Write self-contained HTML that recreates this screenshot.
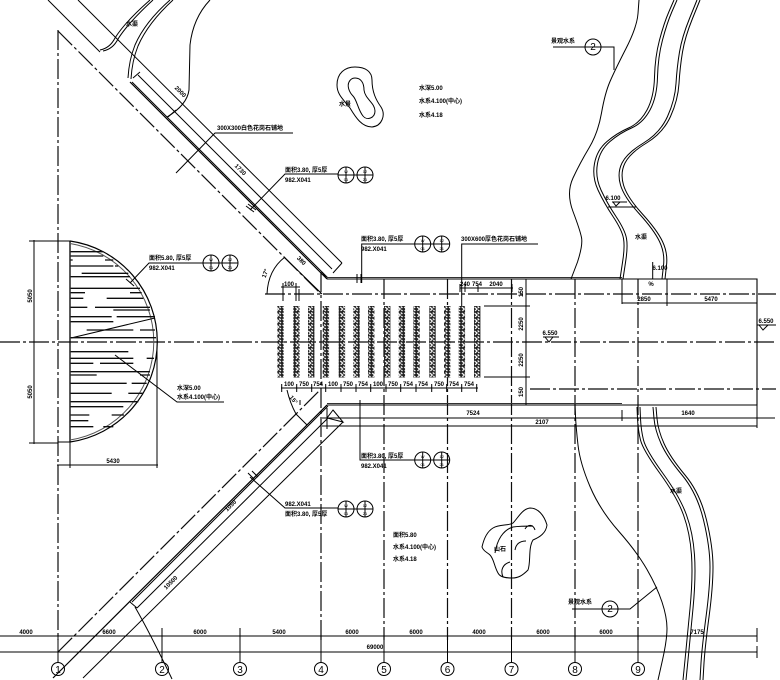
<!DOCTYPE html>
<html><head><meta charset="utf-8"><style>
html,body{margin:0;padding:0;background:#fff}
svg{display:block}
text{font-family:"Liberation Sans","Noto Sans CJK SC",sans-serif;font-size:6px;fill:#000;font-weight:bold}
.n{font-weight:normal;font-size:10px}
.b{font-size:4px;font-weight:normal}
.l{fill:none;stroke:#000;stroke-width:1}
.g{fill:none;stroke:#111;stroke-width:1.2;stroke-dasharray:20 3 3 3}
</style></head><body>
<svg width="780" height="680" viewBox="0 0 780 680" xmlns="http://www.w3.org/2000/svg">
<defs>
<pattern id="tr" width="6.4" height="6" patternUnits="userSpaceOnUse" x="0" y="306">
<rect width="6.4" height="6" fill="#222"/>
<path d="M1 1L3.5 3L1.5 5M4 .5L5.6 2M4.5 4L5.8 5" stroke="#fff" stroke-width="1.2" fill="none"/>
</pattern>
<filter id="soft" x="0" y="0" width="100%" height="100%"><feGaussianBlur stdDeviation="0.35"/></filter>
</defs>
<rect width="780" height="680" fill="#fff"/>
<g filter="url(#soft)">

<!-- grid axes -->
<g class="g">
<path d="M0 342H776"/>
<path d="M265 294H776"/>
<path d="M530 389H776"/>
<path d="M58 30V640"/>
<path d="M321 272V640"/>
<path d="M384 279V640"/>
<path d="M447.5 279V640"/>
<path d="M511.5 279V640"/>
<path d="M575 279V640"/>
<path d="M638 279V640"/>
<path d="M58 31L321 294"/>
<path d="M58 652L320 390"/>
</g>

<!-- dimension lines bottom + bubbles -->
<g class="l">
<path d="M0 636H757M0 652H757M757 628V642M757 646V658"/>
<path d="M58 636V662M162 628V662M240 628V662M321 636V662M384 636V662M447.5 636V662M511.5 636V662M575 636V662M638 636V662"/>
<circle cx="58" cy="669" r="6.5"/><circle cx="162" cy="669" r="6.5"/><circle cx="240" cy="669" r="6.5"/><circle cx="321" cy="669" r="6.5"/><circle cx="384" cy="669" r="6.5"/><circle cx="447.5" cy="669" r="6.5"/><circle cx="511.5" cy="669" r="6.5"/><circle cx="575" cy="669" r="6.5"/><circle cx="638" cy="669" r="6.5"/>
</g>
<g>
<text class="n" x="58" y="673" text-anchor="middle">1</text><text class="n" x="162" y="673" text-anchor="middle">2</text><text class="n" x="240" y="673" text-anchor="middle">3</text><text class="n" x="321" y="673" text-anchor="middle">4</text><text class="n" x="384" y="673" text-anchor="middle">5</text><text class="n" x="447.5" y="673" text-anchor="middle">6</text><text class="n" x="511.5" y="673" text-anchor="middle">7</text><text class="n" x="575" y="673" text-anchor="middle">8</text><text class="n" x="638" y="673" text-anchor="middle">9</text>
</g>
<g text-anchor="middle">
<text x="26" y="634">4000</text><text x="109" y="634">6600</text><text x="200" y="634">6000</text><text x="279" y="634">5400</text><text x="352" y="634">6000</text><text x="375" y="649">69000</text><text x="416" y="634">6000</text><text x="479" y="634">4000</text><text x="543" y="634">6000</text><text x="606" y="634">6000</text><text x="697" y="634">7175</text>
</g>

<!-- semicircle platform -->
<g class="l">
<path d="M70 241V442" stroke-width="1.3"/>
<path d="M70 241A101.5 101.5 0 0 1 70 442" stroke-width="1.2"/>
<path d="M70 243.5A99.5 99.5 0 0 1 70 440" stroke="#555"/>
<path d="M34 240V444M29 241H58M29 443H58M58 241H70M58 442H70M57 465H158M70 442V468M157 345V468"/>
<path d="M71 338L155 318"/>
<path d="M130 283L149 263H203M115 355L177 402H224"/>
<path d="M126 279L134 286"/>
</g>
<g transform="translate(0,220) scale(.33333)" fill="none" stroke="#111" stroke-width="4">
<path d="M212 95H310M212 108H310M315 120H340M212 120H218M212 138H340M345 138H355M245 160H385M212 170H390M212 205H420M212 218H255M390 218H425M212 235H250M320 235H430M212 262H262M285 262H450M340 270H450M212 290H335M350 290H465M212 305H340M260 330H400M420 330H465M212 353H468M212 395H385M212 415H400M440 415H462M212 430H280M300 430H400M212 455H450M212 465H290M420 465H450M212 490H380M395 490H440M212 520H335M385 520H430M212 545H415M212 560H370M212 585H268M335 585H372M212 602H265M212 620H280M310 620H340"/>
</g>
<text transform="translate(32,296) rotate(-90)" text-anchor="middle">5050</text>
<text transform="translate(32,392) rotate(-90)" text-anchor="middle">5050</text>
<text x="113" y="463" text-anchor="middle">5430</text>
<text x="149" y="260">面积5.80, 厚5厚</text><text x="149" y="270">982.X041</text>
<text x="177" y="390">水深5.00</text><text x="177" y="399">水系4.100(中心)</text>

<!-- double bubbles -->
<g class="l" stroke-width="1.1">
<circle cx="211" cy="263" r="8"/><circle cx="230" cy="263" r="8"/><path d="M203 263H238M211 255V271M230 255V271"/>
<circle cx="346" cy="175" r="8"/><circle cx="365" cy="175" r="8"/><path d="M338 175H373M346 167V183M365 167V183"/>
<circle cx="422.7" cy="244" r="8"/><circle cx="441.7" cy="244" r="8"/><path d="M415 244H450M422.7 236V252M441.7 236V252"/>
<circle cx="422.7" cy="460" r="8"/><circle cx="441.7" cy="460" r="8"/><path d="M415 460H450M422.7 452V468M441.7 452V468"/>
<circle cx="346" cy="509" r="8"/><circle cx="365" cy="509" r="8"/><path d="M338 509H373M346 501V517M365 501V517"/>
<circle cx="593" cy="47" r="8"/><circle cx="610" cy="609" r="8"/>
</g>
<g text-anchor="middle">
<text class="b" x="211" y="261">W</text><text class="b" x="211" y="269">01</text><text class="b" x="230" y="261">12</text><text class="b" x="230" y="269">21</text>
<text class="b" x="346" y="173">W</text><text class="b" x="346" y="181">01</text><text class="b" x="365" y="173">12</text><text class="b" x="365" y="181">21</text>
<text class="b" x="422.7" y="242">W</text><text class="b" x="422.7" y="250">01</text><text class="b" x="441.7" y="242">12</text><text class="b" x="441.7" y="250">21</text>
<text class="b" x="422.7" y="458">W</text><text class="b" x="422.7" y="466">01</text><text class="b" x="441.7" y="458">12</text><text class="b" x="441.7" y="466">21</text>
<text class="b" x="346" y="507">W</text><text class="b" x="346" y="515">01</text><text class="b" x="365" y="507">12</text><text class="b" x="365" y="515">21</text>
</g>
<text class="n" x="593" y="50" text-anchor="middle">2</text>
<text class="n" x="610" y="612" text-anchor="middle">2</text>

<!-- upper diagonal walkway -->
<g class="l">
<path d="M48 0L100 52" />
<path d="M78 0L342 263"/>
<path d="M130 82L327 279" stroke-width="1.2"/>
<path d="M132 82L328 278"/>
<path d="M138 75L332 269"/>
<path d="M342 263L333 273M133 78L140 72M168 117L176 110"/>
<path d="M100 50Q110 48 115 38Q125 22 150 0"/>
<path d="M103 51Q113 49 118 39Q128 23 153 0"/>
<path d="M128 78Q129 60 135 45Q145 22 170 0"/>
<path d="M131 79Q132 61 138 46Q148 23 173 0"/>
<path d="M210 0Q193 18 190 45L189 90Q187 105 167 117"/>
<path d="M176 173L215 133H293"/>
<path d="M250 210L285 174H338"/>
<path d="M246 206L254 212M248 204L256 210"/>
<path d="M355 67C366 67 372 72 372 80C372 92 376 100 381 107C386 115 382 126 372 127C362 127 356 118 350 108C344 100 337 95 337 85C337 73 345 67 355 67Z"/>
<path d="M355 78C361 78 364 83 364 90C365 99 375 103 375 111C375 118 367 121 363 116C358 110 357 100 353 96C349 92 347 86 349 82C350 80 352 78 355 78Z"/>
</g>
<text transform="translate(179,93) rotate(45)" text-anchor="middle">2000</text>
<text transform="translate(239,171) rotate(45)" text-anchor="middle">1730</text>
<text x="132" y="26" text-anchor="middle">水渠</text>
<text x="217" y="130">300X300白色花岗石铺地</text>
<text x="285" y="172">面积3.80, 厚5厚</text><text x="285" y="182">982.X041</text>
<text x="345" y="106" text-anchor="middle">水景</text>
<text x="419" y="90">水深5.00</text><text x="419" y="103">水系4.100(中心)</text><text x="419" y="117">水系4.18</text>

<!-- bridge -->
<g class="l">
<path d="M327 279H757V405H327" stroke-width="1.1"/>
<path d="M327 277.5H622M327 403.5H622" stroke="#333"/>
<path d="M322 272L327 279M320 412L327 405"/>
<path d="M622 279V304M622 303H757M667 279V306M652.7 262V279"/>
<path d="M322 418H775M322 426H757M622 410V421M757 405V428M327 408V429M360 400V460H415M360 405H366"/>
<path d="M333 410L343 422L327 418ZM300 405V400"/>
<path d="M361.7 283V244H415M357 274V283M361 274V283"/>
<path d="M461.7 316V244H538"/>
<path d="M460 288H513M460 284V292M465 284V292M478 284V292M512 284V292"/>
<path d="M281 287H300M283 283V301M296 283V301M299 289V301"/>
<path d="M281 388H478M281.7 384V392M296.7 384V392M311.7 384V392M325.7 384V392M341 384V392M356 384V392M370.7 384V392M386 384V392M400.7 384V392M416 384V392M431.7 384V392M446.7 384V392M461.7 384V392M476.7 384V392"/>
<path d="M484 306H526M484 377H526M526 279V405M522 279H530M522 306H530M522 342H530M522 377H530M522 405H530"/>
<path d="M543 337H559M545 337L549 342L553 337M757 325H776M759 325L763 330L768 325"/>
<path d="M612 202H627M608 207H636M613 202L616 206L620 202"/>
<path d="M285 257Q268 270 267 294M287 390Q290 403 296 414M284 257L322 294M296 414L307 425"/>
<path d="M553 47H614V70M572 609H630L657 587"/>
</g>
<g fill="url(#tr)">
<rect x="277.3" y="306" width="6.4" height="71.5"/><rect x="293.3" y="306" width="6.4" height="71.5"/><rect x="308" y="306" width="6.4" height="71.5"/><rect x="322.7" y="306" width="6.4" height="71.5"/><rect x="338.7" y="306" width="6.4" height="71.5"/><rect x="353.3" y="306" width="6.4" height="71.5"/><rect x="368" y="306" width="6.4" height="71.5"/><rect x="384" y="306" width="6.4" height="71.5"/><rect x="398.7" y="306" width="6.4" height="71.5"/><rect x="413.3" y="306" width="6.4" height="71.5"/><rect x="429.3" y="306" width="6.4" height="71.5"/><rect x="444" y="306" width="6.4" height="71.5"/><rect x="458.7" y="306" width="6.4" height="71.5"/><rect x="474" y="306" width="6.4" height="71.5"/>
</g>
<g text-anchor="middle">
<text x="289" y="286">100</text><text x="300" y="262" transform="rotate(45 300 262)">380</text>
<text x="267" y="274" transform="rotate(-70 267 274)">17°</text><text x="292" y="401" transform="rotate(50 292 401)">15°</text>
<text x="465" y="286">240</text><text x="477" y="286">754</text><text x="496" y="286">2040</text>
<text x="289" y="386">100</text><text x="304" y="386">750</text><text x="318" y="386">754</text><text x="333" y="386">100</text><text x="348" y="386">750</text><text x="363" y="386">754</text><text x="378" y="386">100</text><text x="393" y="386">750</text><text x="408" y="386">754</text><text x="423" y="386">754</text><text x="439" y="386">750</text><text x="454" y="386">754</text><text x="469" y="386">754</text>
<text x="473" y="415">7524</text><text x="542" y="424">2107</text><text x="688" y="415">1640</text>
<text x="644" y="301">2850</text><text x="711" y="301">5470</text>
<text transform="translate(523,292) rotate(-90)">150</text><text transform="translate(523,324) rotate(-90)">2250</text><text transform="translate(523,360) rotate(-90)">2250</text><text transform="translate(523,392) rotate(-90)">150</text>
<text x="550" y="335">6.550</text><text x="766" y="323">6.550</text><text x="660" y="270">6.100</text><text x="651" y="286">%</text><text x="613" y="200">6.100</text><text x="641" y="239">水渠</text>
</g>
<text x="361" y="241">面积3.80, 厚5厚</text><text x="361" y="251">982.X041</text>
<text x="461" y="241">300X600厚色花岗石铺地</text>
<text x="361" y="458">面积3.80, 厚5厚</text><text x="361" y="468">982.X041</text>
<text x="285" y="506">982.X041</text><text x="285" y="516">面积3.80, 厚5厚</text>

<!-- lower diagonal walkway -->
<g class="l">
<path d="M53 678L327 405" stroke-width="1.2"/>
<path d="M132 602L328 406"/>
<path d="M137 608L328 418"/>
<path d="M83 678L343 422"/>
<path d="M135 607Q150 633 172 679"/>
<path d="M130 602L137 608"/>
<path d="M250 477L285 508H338"/>
<path d="M248 473L254 479M252 471L258 477"/>
<path d="M482 547C484 538 488 531 493 528C500 524 508 526 513 523C518 518 522 509 530 508C538 508 544 515 547 525C546 533 540 537 533 540C528 548 531 562 528 570C522 576 518 578 512 578C505 578 500 577 498 573C494 566 494 559 490 555C487 552 484 552 482 547Z"/>
<path d="M495 553C497 540 503 530 513 527C520 526 528 526 533 526M525 529C528 524 533 524 535 530M515 550C516 544 520 541 526 541M503 577C500 570 503 564 510 562"/>
</g>
<text transform="translate(232,507) rotate(-45)" text-anchor="middle">1050</text>
<text transform="translate(172,584) rotate(-45)" text-anchor="middle">10500</text>
<text x="393" y="537">面积5.80</text><text x="393" y="549">水系4.100(中心)</text><text x="393" y="561">水系4.18</text>
<text x="494" y="551">山石</text>
<text x="676" y="493" text-anchor="middle">水渠</text>
<text x="563" y="43" text-anchor="middle">景观水系</text>
<text x="580" y="604" text-anchor="middle">景观水系</text>

<!-- rivers -->
<g class="l">
<path d="M677 0L672 11.5Q667 23 662.5 40Q658 57 657.5 77Q657 97 650 110Q643 123 631.5 128Q620 133 610 141.5Q600 150 597.5 163.5Q595 177 601 190Q607 203 616 216.5Q625 230 626.5 238.5Q628 247 625.5 262.5L623 279"/>
<path transform="translate(-3,0)" d="M677 0L672 11.5Q667 23 662.5 40Q658 57 657.5 77Q657 97 650 110Q643 123 631.5 128Q620 133 610 141.5Q600 150 597.5 163.5Q595 177 601 190Q607 203 616 216.5Q625 230 626.5 238.5Q628 247 625.5 262.5L623 279"/>
<path d="M700 0L692.5 18.5Q685 37 682.5 52Q680 67 679 83.5Q678 100 670.5 116.5Q663 133 646.5 143Q630 153 625 163Q620 173 623.5 185Q627 197 642 213.5Q657 230 662.5 241.5Q668 253 666.5 265.5L665 279"/>
<path transform="translate(-3,0)" d="M700 0L692.5 18.5Q685 37 682.5 52Q680 67 679 83.5Q678 100 670.5 116.5Q663 133 646.5 143Q630 153 625 163Q620 173 623.5 185Q627 197 642 213.5Q657 230 662.5 241.5Q668 253 666.5 265.5L665 279"/>
<path d="M639 0L638 13.5Q637 27 626 48.5Q615 70 610 81.5Q605 93 601.5 113Q598 133 589 148Q580 163 573 178Q566 193 573 211.5Q580 230 581.5 237.5Q583 245 577.5 262L571 279"/>
<path d="M637 407L637.5 418.5Q638 430 640.5 440Q643 450 660 473.5Q677 497 683.5 515Q690 533 691.5 555Q693 577 690 608.5Q687 640 685 660L683 680"/>
<path transform="translate(3,0)" d="M637 407L637.5 418.5Q638 430 640.5 440Q643 450 660 473.5Q677 497 683.5 515Q690 533 691.5 555Q693 577 690 608.5Q687 640 685 660L683 680"/>
<path d="M653 407L654 418.5Q655 430 661 443.5Q667 457 682 475Q697 493 703.5 520Q710 547 710 567Q710 587 706 617Q702 647 701 663L700 680"/>
<path transform="translate(3,0)" d="M653 407L654 418.5Q655 430 661 443.5Q667 457 682 475Q697 493 703.5 520Q710 547 710 567Q710 587 706 617Q702 647 701 663L700 680"/>
<path d="M575 405L575.5 416Q576 427 578 445Q580 463 590 486.5Q600 510 618.5 531Q637 552 647 569.5Q657 587 662 602Q667 617 667 628.5Q667 640 662.5 660L658 680"/>
</g>
</g>
</svg>
</body></html>
